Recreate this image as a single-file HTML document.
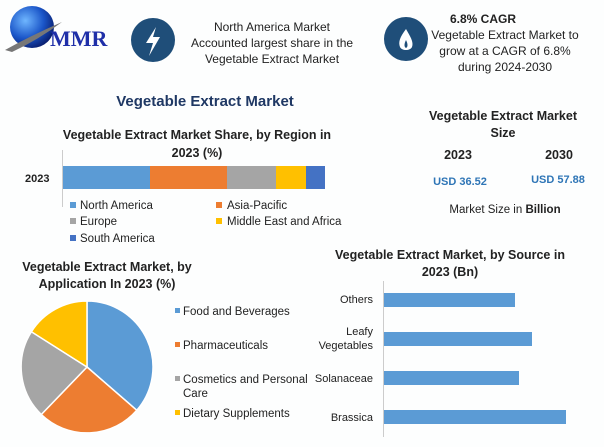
<!DOCTYPE html>
<html><head><meta charset="utf-8"><style>
html,body{margin:0;padding:0;background:#fdfefe;}
svg{display:block;font-family:"Liberation Sans",sans-serif;}
</style></head><body>
<svg width="604" height="447" viewBox="0 0 604 447" xmlns="http://www.w3.org/2000/svg">
<rect width="604" height="447" fill="#fdfefe"/>
<defs><radialGradient id="g" cx="0.35" cy="0.35" r="0.7"><stop offset="0" stop-color="#6fb6ff"/><stop offset="0.6" stop-color="#1a55c8"/><stop offset="1" stop-color="#0a1f70"/></radialGradient></defs>
<ellipse cx="32" cy="27" rx="22" ry="21" fill="url(#g)"/>
<path d="M5 50 Q30 36 62 22 Q38 40 12 52Z" fill="#777"/>
<text x="50" y="46" font-family="Liberation Serif,serif" font-weight="bold" font-size="22" fill="#1f2fa8">MMR</text>
<circle cx="153" cy="40" r="22" fill="#1f4e79"/>
<path d="M156 27 L146 43 L153 43 L149 56 L160 37 L153 37 Z" fill="#fff"/>
<circle cx="406" cy="39" r="22" fill="#1f4e79"/>
<path d="M406 29 C400 37 398 42 400 47 C402 51 410 51 412 47 C414 42 410 36 406 29Z" fill="#fff"/>
<path d="M406 40 C404 44 404 47 406 48 C408 47 408 44 406 40Z" fill="#1f4e79"/>
<g font-size="12" fill="#222" text-anchor="middle">
<text x="272" y="31">North America Market</text>
<text x="272" y="47">Accounted largest share in the</text>
<text x="272" y="63">Vegetable Extract Market</text>
<text x="450" y="23" font-weight="bold" text-anchor="start">6.8% CAGR</text>
<text x="505" y="39">Vegetable Extract Market to</text>
<text x="505" y="55">grow at a CAGR of 6.8%</text>
<text x="505" y="71">during 2024-2030</text>
</g>
<text x="205" y="106" font-size="15" font-weight="bold" fill="#1f3864" text-anchor="middle">Vegetable Extract Market</text>
<g font-size="12.5" font-weight="bold" fill="#222" text-anchor="middle">
<text x="197" y="139">Vegetable Extract Market Share, by Region in</text>
<text x="197" y="157">2023 (%)</text>
</g>
<text x="25" y="182" font-size="11" font-weight="bold" fill="#222">2023</text>
<line x1="62.5" y1="150" x2="62.5" y2="207" stroke="#ccc"/>
<rect x="63" y="166" width="87" height="23" fill="#5b9bd5"/>
<rect x="150" y="166" width="77" height="23" fill="#ed7d31"/>
<rect x="227" y="166" width="49" height="23" fill="#a5a5a5"/>
<rect x="276" y="166" width="30" height="23" fill="#ffc000"/>
<rect x="306" y="166" width="19" height="23" fill="#4472c4"/>
<g font-size="11.5" fill="#222">
<rect x="70" y="202" width="6" height="6" fill="#5b9bd5"/><text x="80" y="209">North America</text>
<rect x="216" y="202" width="6" height="6" fill="#ed7d31"/><text x="227" y="209">Asia-Pacific</text>
<rect x="70" y="218" width="6" height="6" fill="#a5a5a5"/><text x="80" y="225">Europe</text>
<rect x="216" y="218" width="6" height="6" fill="#ffc000"/><text x="227" y="225">Middle East and Africa</text>
<rect x="70" y="235" width="6" height="6" fill="#4472c4"/><text x="80" y="242">South America</text>
</g>
<g font-size="12.5" font-weight="bold" fill="#222" text-anchor="middle">
<text x="503" y="120">Vegetable Extract Market</text>
<text x="503" y="137">Size</text>
<text x="458" y="159">2023</text>
<text x="559" y="159">2030</text>
</g>
<g font-size="11" font-weight="bold" fill="#2e75b6" text-anchor="middle">
<text x="460" y="185">USD 36.52</text>
<text x="558" y="183">USD 57.88</text>
</g>
<text x="505" y="213" font-size="11.5" fill="#222" text-anchor="middle">Market Size in <tspan font-weight="bold">Billion</tspan></text>
<g font-size="12.5" font-weight="bold" fill="#222" text-anchor="middle">
<text x="107" y="271">Vegetable Extract Market, by</text>
<text x="107" y="288">Application In 2023 (%)</text>
</g>
<g stroke="#fff" stroke-width="1.5">
<path d="M87 367 L87 301 A66 66 0 0 1 136.8 410.3 Z" fill="#5b9bd5"/>
<path d="M87 367 L136.8 410.3 A66 66 0 0 1 41.3 414.5 Z" fill="#ed7d31"/>
<path d="M87 367 L41.3 414.5 A66 66 0 0 1 31.4 331.7 Z" fill="#a5a5a5"/>
<path d="M87 367 L31.4 331.7 A66 66 0 0 1 87 301 Z" fill="#ffc000"/>
</g>
<g font-size="11.5" fill="#222">
<rect x="175" y="308" width="5" height="5" fill="#5b9bd5"/><text x="183" y="315">Food and Beverages</text>
<rect x="175" y="342" width="5" height="5" fill="#ed7d31"/><text x="183" y="349">Pharmaceuticals</text>
<rect x="175" y="376" width="5" height="5" fill="#a5a5a5"/><text x="183" y="383">Cosmetics and Personal</text>
<text x="183" y="397">Care</text>
<rect x="175" y="410" width="5" height="5" fill="#ffc000"/><text x="183" y="417">Dietary Supplements</text>
</g>
<g font-size="12.5" font-weight="bold" fill="#222" text-anchor="middle">
<text x="450" y="259">Vegetable Extract Market, by Source in</text>
<text x="450" y="276">2023 (Bn)</text>
</g>
<line x1="383.5" y1="281" x2="383.5" y2="437" stroke="#ccc"/>
<g fill="#5b9bd5">
<rect x="384" y="293" width="131" height="14"/>
<rect x="384" y="332" width="148" height="14"/>
<rect x="384" y="371" width="135" height="14"/>
<rect x="384" y="410" width="182" height="14"/>
</g>
<g font-size="11" fill="#222" text-anchor="end">
<text x="373" y="303">Others</text>
<text x="373" y="335">Leafy</text>
<text x="373" y="349">Vegetables</text>
<text x="373" y="382">Solanaceae</text>
<text x="373" y="421">Brassica</text>
</g>
</svg>
</body></html>
